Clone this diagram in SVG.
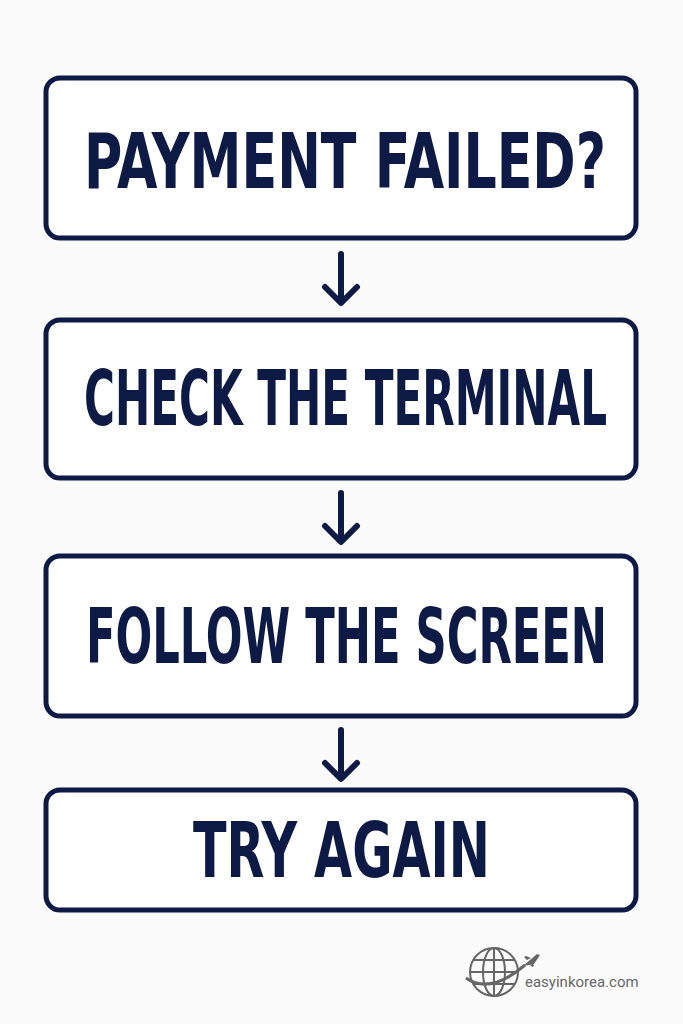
<svg xmlns="http://www.w3.org/2000/svg" width="683" height="1024" viewBox="0 0 683 1024">
<style>
.box{fill:#fff;stroke:#0c1a45;stroke-width:5}
.t{font-family:"DejaVu Sans",sans-serif;font-weight:bold;font-size:76px;fill:#0c1a45;font-stretch:condensed}
.c{fill:none;stroke:#0c1a45;stroke-width:6;stroke-linecap:round;stroke-linejoin:round}
.g{fill:none;stroke:#666;stroke-width:2}
</style>
<rect width="683" height="1024" fill="#fbfbfc"/>
<g id="n1"><rect class="box" x="46" y="78" width="590" height="160" rx="14"/><text class="t" x="84" y="188" textLength="522" lengthAdjust="spacingAndGlyphs">PAYMENT FAILED?</text></g>
<g id="n2"><rect class="box" x="46" y="320" width="590" height="158" rx="14"/><text class="t" x="84" y="425" textLength="523" lengthAdjust="spacingAndGlyphs">CHECK THE TERMINAL</text></g>
<g id="n3"><rect class="box" x="46" y="556" width="590" height="160" rx="14"/><text class="t" x="86" y="663" textLength="521" lengthAdjust="spacingAndGlyphs">FOLLOW THE SCREEN</text></g>
<g id="n4"><rect class="box" x="46" y="790" width="590" height="120" rx="14"/><text class="t" x="193" y="877" textLength="297" lengthAdjust="spacingAndGlyphs">TRY AGAIN</text></g>
<g id="connectors">
<path class="c" d="M341 254V302M325 287L341 303L357 287"/>
<path class="c" d="M341 493V541M325 526L341 542L357 526"/>
<path class="c" d="M341 730V778M325 763L341 779L357 763"/>
</g>
<g id="logo">
<circle class="g" cx="494" cy="972" r="24"/>
<ellipse class="g" cx="494" cy="972" rx="11" ry="24"/>
<line class="g" x1="494" y1="948" x2="494" y2="996"/>
<line class="g" x1="470" y1="972" x2="518" y2="972"/>
<line class="g" x1="474" y1="960" x2="514" y2="960"/>
<line class="g" x1="474" y1="984" x2="514" y2="984"/>
<path d="M466 978Q490 995 525 965" fill="none" stroke="#666" stroke-width="3"/>
<path d="M523 966l14-12 3 1-6 9z M527 960l-3-3 2-1 5 2z M532 961l2 5-2 1-3-4z" fill="#666"/>
<text x="525" y="987" font-family="Roboto,sans-serif" font-size="15" fill="#666">easyinkorea.com</text>
</g>
</svg>
